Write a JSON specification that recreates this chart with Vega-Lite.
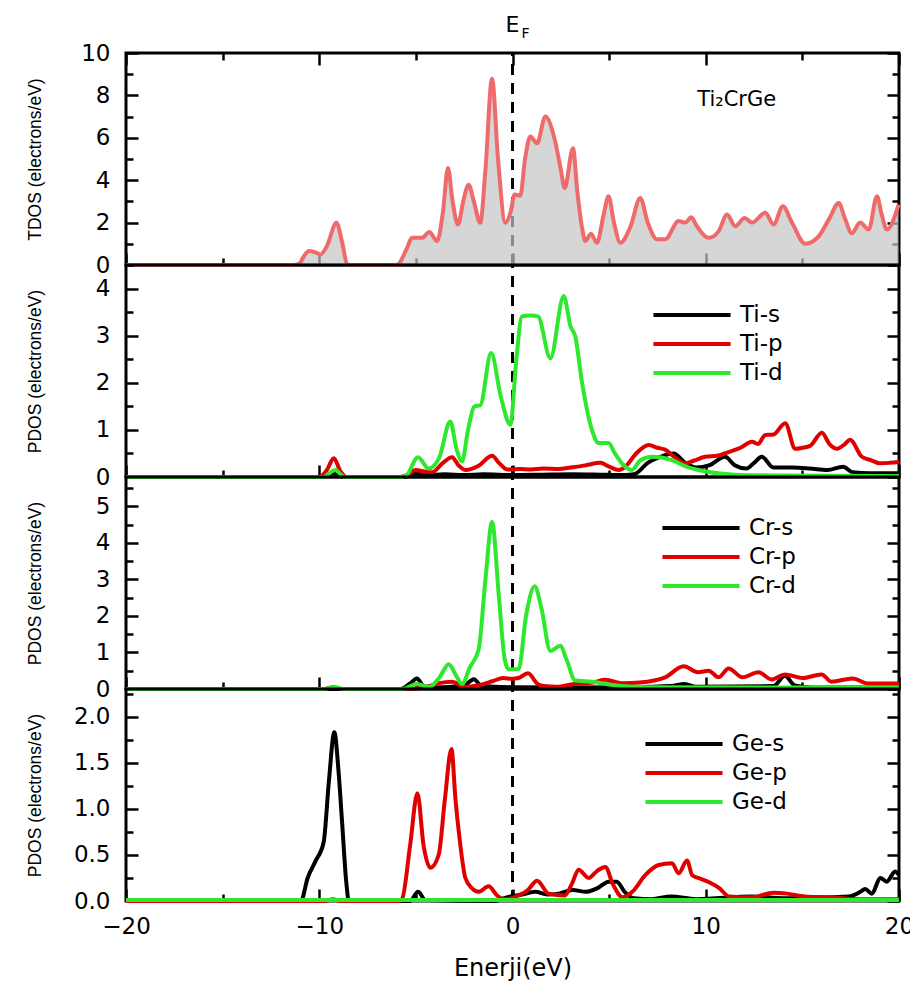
{
  "$schema": "https://vega.github.io/schema/vega-lite/v6.json",
  "background": "white",
  "padding": {"left": 24, "top": 12, "right": 4, "bottom": 4},
  "bounds": "flush",
  "spacing": 0,
  "config": {
    "font": "DejaVu Sans",
    "view": {"stroke": "black", "strokeWidth": 3},
    "axis": {"domain": false, "grid": false, "tickColor": "black", "tickWidth": 2.5, "labelFont": "DejaVu Sans", "labelFontSize": 23, "labelColor": "black", "titleFont": "Liberation Sans", "titleColor": "black", "titleFontWeight": "normal", "labelOverlap": false, "labelFlush": false},
    "legend": {"labelFont": "DejaVu Sans", "labelFontSize": 23, "labelColor": "black", "padding": 0}
  },
  "datasets": {
    "tdos": [
      {"E": -20, "v": 0}, {"E": -11.4, "v": 0}, {"E": -11.05, "v": 0.05}, {"E": -10.8, "v": 0.4}, {"E": -10.54, "v": 0.66}, {"E": -10.2, "v": 0.6}, {"E": -9.94, "v": 0.5}, {"E": -9.6, "v": 0.9}, {"E": -9.11, "v": 1.99}, {"E": -8.8, "v": 1.0}, {"E": -8.56, "v": 0.05}, {"E": -8.4, "v": 0}, {"E": -6.0, "v": 0}, {"E": -5.89, "v": 0.05}, {"E": -5.46, "v": 0.8}, {"E": -5.2, "v": 1.28}, {"E": -4.68, "v": 1.28}, {"E": -4.3, "v": 1.56}, {"E": -3.9, "v": 1.13}, {"E": -3.6, "v": 2.5}, {"E": -3.34, "v": 4.57}, {"E": -3.1, "v": 3.0}, {"E": -2.82, "v": 1.91}, {"E": -2.55, "v": 3.0}, {"E": -2.27, "v": 3.79}, {"E": -2.0, "v": 3.0}, {"E": -1.67, "v": 1.99}, {"E": -1.4, "v": 4.5}, {"E": -1.06, "v": 8.79}, {"E": -0.75, "v": 5.0}, {"E": -0.37, "v": 1.99}, {"E": -0.1, "v": 2.5}, {"E": 0.11, "v": 3.32}, {"E": 0.4, "v": 3.27}, {"E": 0.65, "v": 5.0}, {"E": 0.92, "v": 6.06}, {"E": 1.27, "v": 5.74}, {"E": 1.7, "v": 7.0}, {"E": 2.21, "v": 5.82}, {"E": 2.5, "v": 4.5}, {"E": 2.7, "v": 3.63}, {"E": 3.13, "v": 5.51}, {"E": 3.35, "v": 3.5}, {"E": 3.6, "v": 1.75}, {"E": 3.77, "v": 1.13}, {"E": 4.06, "v": 1.47}, {"E": 4.37, "v": 1.05}, {"E": 4.7, "v": 2.3}, {"E": 4.97, "v": 3.24}, {"E": 5.25, "v": 2.0}, {"E": 5.58, "v": 1.05}, {"E": 6.1, "v": 1.8}, {"E": 6.61, "v": 3.16}, {"E": 7.0, "v": 2.0}, {"E": 7.48, "v": 1.21}, {"E": 7.9, "v": 1.21}, {"E": 8.6, "v": 2.07}, {"E": 8.94, "v": 2.0}, {"E": 9.25, "v": 2.25}, {"E": 9.54, "v": 1.83}, {"E": 10.15, "v": 1.28}, {"E": 10.67, "v": 1.6}, {"E": 11.1, "v": 2.38}, {"E": 11.53, "v": 1.83}, {"E": 12.01, "v": 2.22}, {"E": 12.39, "v": 2.0}, {"E": 13.08, "v": 2.46}, {"E": 13.51, "v": 1.91}, {"E": 13.99, "v": 2.77}, {"E": 14.46, "v": 2.0}, {"E": 15.15, "v": 1.0}, {"E": 15.84, "v": 1.35}, {"E": 16.4, "v": 2.2}, {"E": 16.88, "v": 2.93}, {"E": 17.2, "v": 2.2}, {"E": 17.56, "v": 1.5}, {"E": 17.99, "v": 2.0}, {"E": 18.43, "v": 1.67}, {"E": 18.86, "v": 3.24}, {"E": 19.1, "v": 2.4}, {"E": 19.37, "v": 1.67}, {"E": 19.98, "v": 2.85}
    ],
    "ti": [
      {"s": "Ti-s", "E": -20, "v": 0}, {"s": "Ti-s", "E": -9.8, "v": 0}, {"s": "Ti-s", "E": -9.3, "v": 0.08}, {"s": "Ti-s", "E": -8.8, "v": 0}, {"s": "Ti-s", "E": -5.6, "v": 0}, {"s": "Ti-s", "E": -5.0, "v": 0.08}, {"s": "Ti-s", "E": -4.5, "v": 0.04}, {"s": "Ti-s", "E": -3.5, "v": 0.06}, {"s": "Ti-s", "E": -2.5, "v": 0.04}, {"s": "Ti-s", "E": -1.5, "v": 0.06}, {"s": "Ti-s", "E": 0, "v": 0.04}, {"s": "Ti-s", "E": 1.5, "v": 0.05}, {"s": "Ti-s", "E": 3, "v": 0.06}, {"s": "Ti-s", "E": 4.5, "v": 0.05}, {"s": "Ti-s", "E": 5.5, "v": 0.04}, {"s": "Ti-s", "E": 6.3, "v": 0.06}, {"s": "Ti-s", "E": 7.0, "v": 0.3}, {"s": "Ti-s", "E": 7.6, "v": 0.42}, {"s": "Ti-s", "E": 8.34, "v": 0.5}, {"s": "Ti-s", "E": 8.94, "v": 0.3}, {"s": "Ti-s", "E": 9.5, "v": 0.2}, {"s": "Ti-s", "E": 10.2, "v": 0.25}, {"s": "Ti-s", "E": 11.0, "v": 0.43}, {"s": "Ti-s", "E": 11.5, "v": 0.25}, {"s": "Ti-s", "E": 12.1, "v": 0.18}, {"s": "Ti-s", "E": 12.5, "v": 0.3}, {"s": "Ti-s", "E": 12.9, "v": 0.43}, {"s": "Ti-s", "E": 13.5, "v": 0.2}, {"s": "Ti-s", "E": 14.5, "v": 0.2}, {"s": "Ti-s", "E": 15.4, "v": 0.18}, {"s": "Ti-s", "E": 16.3, "v": 0.15}, {"s": "Ti-s", "E": 17.1, "v": 0.22}, {"s": "Ti-s", "E": 17.6, "v": 0.1}, {"s": "Ti-s", "E": 18.5, "v": 0.08}, {"s": "Ti-s", "E": 20, "v": 0.08},
      {"s": "Ti-p", "E": -20, "v": 0}, {"s": "Ti-p", "E": -10.0, "v": 0}, {"s": "Ti-p", "E": -9.6, "v": 0.15}, {"s": "Ti-p", "E": -9.25, "v": 0.4}, {"s": "Ti-p", "E": -8.9, "v": 0.12}, {"s": "Ti-p", "E": -8.6, "v": 0}, {"s": "Ti-p", "E": -5.8, "v": 0}, {"s": "Ti-p", "E": -5.4, "v": 0.05}, {"s": "Ti-p", "E": -5.03, "v": 0.15}, {"s": "Ti-p", "E": -4.6, "v": 0.12}, {"s": "Ti-p", "E": -4.16, "v": 0.1}, {"s": "Ti-p", "E": -3.6, "v": 0.3}, {"s": "Ti-p", "E": -3.13, "v": 0.42}, {"s": "Ti-p", "E": -2.8, "v": 0.25}, {"s": "Ti-p", "E": -2.44, "v": 0.15}, {"s": "Ti-p", "E": -1.75, "v": 0.24}, {"s": "Ti-p", "E": -1.06, "v": 0.45}, {"s": "Ti-p", "E": -0.7, "v": 0.3}, {"s": "Ti-p", "E": -0.28, "v": 0.16}, {"s": "Ti-p", "E": 0.4, "v": 0.17}, {"s": "Ti-p", "E": 0.94, "v": 0.16}, {"s": "Ti-p", "E": 1.6, "v": 0.18}, {"s": "Ti-p", "E": 2.39, "v": 0.17}, {"s": "Ti-p", "E": 3.0, "v": 0.2}, {"s": "Ti-p", "E": 3.8, "v": 0.25}, {"s": "Ti-p", "E": 4.54, "v": 0.3}, {"s": "Ti-p", "E": 5.0, "v": 0.22}, {"s": "Ti-p", "E": 5.5, "v": 0.15}, {"s": "Ti-p", "E": 5.84, "v": 0.22}, {"s": "Ti-p", "E": 6.4, "v": 0.5}, {"s": "Ti-p", "E": 7.05, "v": 0.68}, {"s": "Ti-p", "E": 7.5, "v": 0.62}, {"s": "Ti-p", "E": 7.9, "v": 0.58}, {"s": "Ti-p", "E": 8.4, "v": 0.42}, {"s": "Ti-p", "E": 8.94, "v": 0.29}, {"s": "Ti-p", "E": 9.4, "v": 0.35}, {"s": "Ti-p", "E": 9.97, "v": 0.43}, {"s": "Ti-p", "E": 10.6, "v": 0.45}, {"s": "Ti-p", "E": 11.18, "v": 0.53}, {"s": "Ti-p", "E": 11.8, "v": 0.62}, {"s": "Ti-p", "E": 12.39, "v": 0.75}, {"s": "Ti-p", "E": 12.7, "v": 0.7}, {"s": "Ti-p", "E": 13.08, "v": 0.89}, {"s": "Ti-p", "E": 13.5, "v": 0.9}, {"s": "Ti-p", "E": 14.11, "v": 1.14}, {"s": "Ti-p", "E": 14.63, "v": 0.6}, {"s": "Ti-p", "E": 15.0, "v": 0.62}, {"s": "Ti-p", "E": 15.4, "v": 0.66}, {"s": "Ti-p", "E": 16.01, "v": 0.94}, {"s": "Ti-p", "E": 16.4, "v": 0.7}, {"s": "Ti-p", "E": 16.8, "v": 0.6}, {"s": "Ti-p", "E": 17.2, "v": 0.7}, {"s": "Ti-p", "E": 17.47, "v": 0.79}, {"s": "Ti-p", "E": 18.08, "v": 0.43}, {"s": "Ti-p", "E": 18.6, "v": 0.35}, {"s": "Ti-p", "E": 19.0, "v": 0.29}, {"s": "Ti-p", "E": 19.5, "v": 0.3}, {"s": "Ti-p", "E": 20, "v": 0.32},
      {"s": "Ti-d", "E": -20, "v": 0}, {"s": "Ti-d", "E": -9.8, "v": 0}, {"s": "Ti-d", "E": -9.17, "v": 0.15}, {"s": "Ti-d", "E": -8.7, "v": 0}, {"s": "Ti-d", "E": -5.8, "v": 0}, {"s": "Ti-d", "E": -5.5, "v": 0.03}, {"s": "Ti-d", "E": -4.89, "v": 0.42}, {"s": "Ti-d", "E": -4.34, "v": 0.18}, {"s": "Ti-d", "E": -3.8, "v": 0.4}, {"s": "Ti-d", "E": -3.22, "v": 1.18}, {"s": "Ti-d", "E": -2.9, "v": 0.6}, {"s": "Ti-d", "E": -2.61, "v": 0.33}, {"s": "Ti-d", "E": -2.3, "v": 1.0}, {"s": "Ti-d", "E": -1.96, "v": 1.5}, {"s": "Ti-d", "E": -1.67, "v": 1.52}, {"s": "Ti-d", "E": -1.11, "v": 2.63}, {"s": "Ti-d", "E": -0.6, "v": 1.7}, {"s": "Ti-d", "E": -0.11, "v": 1.11}, {"s": "Ti-d", "E": 0.2, "v": 2.5}, {"s": "Ti-d", "E": 0.49, "v": 3.41}, {"s": "Ti-d", "E": 0.92, "v": 3.43}, {"s": "Ti-d", "E": 1.32, "v": 3.41}, {"s": "Ti-d", "E": 1.96, "v": 2.52}, {"s": "Ti-d", "E": 2.65, "v": 3.84}, {"s": "Ti-d", "E": 3.0, "v": 3.2}, {"s": "Ti-d", "E": 3.25, "v": 2.98}, {"s": "Ti-d", "E": 3.6, "v": 2.0}, {"s": "Ti-d", "E": 4.11, "v": 1.0}, {"s": "Ti-d", "E": 4.46, "v": 0.72}, {"s": "Ti-d", "E": 4.97, "v": 0.72}, {"s": "Ti-d", "E": 5.3, "v": 0.5}, {"s": "Ti-d", "E": 5.66, "v": 0.29}, {"s": "Ti-d", "E": 6.18, "v": 0.15}, {"s": "Ti-d", "E": 6.6, "v": 0.35}, {"s": "Ti-d", "E": 7.22, "v": 0.43}, {"s": "Ti-d", "E": 8.25, "v": 0.36}, {"s": "Ti-d", "E": 9.0, "v": 0.22}, {"s": "Ti-d", "E": 9.63, "v": 0.15}, {"s": "Ti-d", "E": 11.5, "v": 0.05}, {"s": "Ti-d", "E": 14, "v": 0.03}, {"s": "Ti-d", "E": 20, "v": 0.02}
    ],
    "cr": [
      {"s": "Cr-s", "E": -20, "v": 0}, {"s": "Cr-s", "E": -5.8, "v": 0}, {"s": "Cr-s", "E": -5.3, "v": 0.15}, {"s": "Cr-s", "E": -4.94, "v": 0.29}, {"s": "Cr-s", "E": -4.6, "v": 0.08}, {"s": "Cr-s", "E": -4.0, "v": 0.04}, {"s": "Cr-s", "E": -2.5, "v": 0.1}, {"s": "Cr-s", "E": -2.0, "v": 0.27}, {"s": "Cr-s", "E": -1.6, "v": 0.08}, {"s": "Cr-s", "E": 0, "v": 0.05}, {"s": "Cr-s", "E": 3, "v": 0.04}, {"s": "Cr-s", "E": 6, "v": 0.05}, {"s": "Cr-s", "E": 8.2, "v": 0.08}, {"s": "Cr-s", "E": 8.9, "v": 0.14}, {"s": "Cr-s", "E": 9.5, "v": 0.06}, {"s": "Cr-s", "E": 13.5, "v": 0.08}, {"s": "Cr-s", "E": 14.1, "v": 0.36}, {"s": "Cr-s", "E": 14.6, "v": 0.1}, {"s": "Cr-s", "E": 15.5, "v": 0.04}, {"s": "Cr-s", "E": 20, "v": 0.04},
      {"s": "Cr-p", "E": -20, "v": 0}, {"s": "Cr-p", "E": -9.8, "v": 0}, {"s": "Cr-p", "E": -9.3, "v": 0.05}, {"s": "Cr-p", "E": -8.8, "v": 0}, {"s": "Cr-p", "E": -5.5, "v": 0}, {"s": "Cr-p", "E": -4.5, "v": 0.05}, {"s": "Cr-p", "E": -3.8, "v": 0.16}, {"s": "Cr-p", "E": -3.13, "v": 0.2}, {"s": "Cr-p", "E": -2.5, "v": 0.06}, {"s": "Cr-p", "E": -1.8, "v": 0.1}, {"s": "Cr-p", "E": -1.0, "v": 0.22}, {"s": "Cr-p", "E": -0.5, "v": 0.3}, {"s": "Cr-p", "E": 0, "v": 0.28}, {"s": "Cr-p", "E": 0.3, "v": 0.3}, {"s": "Cr-p", "E": 0.8, "v": 0.43}, {"s": "Cr-p", "E": 1.3, "v": 0.14}, {"s": "Cr-p", "E": 1.6, "v": 0.08}, {"s": "Cr-p", "E": 2.3, "v": 0.06}, {"s": "Cr-p", "E": 3.1, "v": 0.13}, {"s": "Cr-p", "E": 4.2, "v": 0.18}, {"s": "Cr-p", "E": 4.8, "v": 0.25}, {"s": "Cr-p", "E": 5.66, "v": 0.16}, {"s": "Cr-p", "E": 6.6, "v": 0.18}, {"s": "Cr-p", "E": 7.9, "v": 0.32}, {"s": "Cr-p", "E": 8.86, "v": 0.62}, {"s": "Cr-p", "E": 9.6, "v": 0.46}, {"s": "Cr-p", "E": 10.15, "v": 0.5}, {"s": "Cr-p", "E": 10.67, "v": 0.32}, {"s": "Cr-p", "E": 11.18, "v": 0.56}, {"s": "Cr-p", "E": 11.9, "v": 0.32}, {"s": "Cr-p", "E": 12.73, "v": 0.46}, {"s": "Cr-p", "E": 13.4, "v": 0.26}, {"s": "Cr-p", "E": 14.1, "v": 0.4}, {"s": "Cr-p", "E": 15, "v": 0.3}, {"s": "Cr-p", "E": 16, "v": 0.4}, {"s": "Cr-p", "E": 16.5, "v": 0.2}, {"s": "Cr-p", "E": 17.6, "v": 0.29}, {"s": "Cr-p", "E": 18.4, "v": 0.15}, {"s": "Cr-p", "E": 20, "v": 0.15},
      {"s": "Cr-d", "E": -20, "v": 0}, {"s": "Cr-d", "E": -9.8, "v": 0}, {"s": "Cr-d", "E": -9.2, "v": 0.05}, {"s": "Cr-d", "E": -8.7, "v": 0}, {"s": "Cr-d", "E": -5.7, "v": 0}, {"s": "Cr-d", "E": -4.94, "v": 0.14}, {"s": "Cr-d", "E": -4.34, "v": 0.05}, {"s": "Cr-d", "E": -3.8, "v": 0.3}, {"s": "Cr-d", "E": -3.3, "v": 0.68}, {"s": "Cr-d", "E": -2.9, "v": 0.35}, {"s": "Cr-d", "E": -2.61, "v": 0.14}, {"s": "Cr-d", "E": -2.2, "v": 0.6}, {"s": "Cr-d", "E": -1.75, "v": 1.09}, {"s": "Cr-d", "E": -1.4, "v": 3.0}, {"s": "Cr-d", "E": -1.06, "v": 4.57}, {"s": "Cr-d", "E": -0.7, "v": 2.5}, {"s": "Cr-d", "E": -0.4, "v": 0.8}, {"s": "Cr-d", "E": -0.2, "v": 0.54}, {"s": "Cr-d", "E": 0.32, "v": 0.55}, {"s": "Cr-d", "E": 0.7, "v": 2.0}, {"s": "Cr-d", "E": 1.15, "v": 2.81}, {"s": "Cr-d", "E": 1.5, "v": 2.2}, {"s": "Cr-d", "E": 1.96, "v": 1.04}, {"s": "Cr-d", "E": 2.47, "v": 1.18}, {"s": "Cr-d", "E": 2.8, "v": 0.8}, {"s": "Cr-d", "E": 3.25, "v": 0.23}, {"s": "Cr-d", "E": 4.1, "v": 0.2}, {"s": "Cr-d", "E": 5.0, "v": 0.12}, {"s": "Cr-d", "E": 5.6, "v": 0.08}, {"s": "Cr-d", "E": 7, "v": 0.05}, {"s": "Cr-d", "E": 20, "v": 0.04}
    ],
    "ge": [
      {"s": "Ge-s", "E": -20, "v": 0}, {"s": "Ge-s", "E": -10.95, "v": 0}, {"s": "Ge-s", "E": -10.6, "v": 0.25}, {"s": "Ge-s", "E": -10.2, "v": 0.43}, {"s": "Ge-s", "E": -9.77, "v": 0.64}, {"s": "Ge-s", "E": -9.5, "v": 1.3}, {"s": "Ge-s", "E": -9.22, "v": 1.83}, {"s": "Ge-s", "E": -9.0, "v": 1.4}, {"s": "Ge-s", "E": -8.82, "v": 0.86}, {"s": "Ge-s", "E": -8.6, "v": 0.2}, {"s": "Ge-s", "E": -8.47, "v": 0}, {"s": "Ge-s", "E": -5.3, "v": 0}, {"s": "Ge-s", "E": -4.89, "v": 0.1}, {"s": "Ge-s", "E": -4.5, "v": 0.01}, {"s": "Ge-s", "E": -1, "v": 0}, {"s": "Ge-s", "E": -0.1, "v": 0.05}, {"s": "Ge-s", "E": 0.5, "v": 0.07}, {"s": "Ge-s", "E": 1.18, "v": 0.1}, {"s": "Ge-s", "E": 1.8, "v": 0.07}, {"s": "Ge-s", "E": 2.4, "v": 0.08}, {"s": "Ge-s", "E": 3.1, "v": 0.12}, {"s": "Ge-s", "E": 3.8, "v": 0.1}, {"s": "Ge-s", "E": 4.4, "v": 0.14}, {"s": "Ge-s", "E": 4.98, "v": 0.21}, {"s": "Ge-s", "E": 5.4, "v": 0.21}, {"s": "Ge-s", "E": 5.8, "v": 0.1}, {"s": "Ge-s", "E": 6.28, "v": 0.03}, {"s": "Ge-s", "E": 7.2, "v": 0.02}, {"s": "Ge-s", "E": 8.2, "v": 0.05}, {"s": "Ge-s", "E": 9.5, "v": 0.02}, {"s": "Ge-s", "E": 12.4, "v": 0.05}, {"s": "Ge-s", "E": 14, "v": 0.03}, {"s": "Ge-s", "E": 17.4, "v": 0.05}, {"s": "Ge-s", "E": 18.0, "v": 0.1}, {"s": "Ge-s", "E": 18.25, "v": 0.13}, {"s": "Ge-s", "E": 18.6, "v": 0.08}, {"s": "Ge-s", "E": 19.03, "v": 0.25}, {"s": "Ge-s", "E": 19.37, "v": 0.21}, {"s": "Ge-s", "E": 19.8, "v": 0.32}, {"s": "Ge-s", "E": 20, "v": 0.28},
      {"s": "Ge-p", "E": -20, "v": 0}, {"s": "Ge-p", "E": -9.7, "v": 0}, {"s": "Ge-p", "E": -9.3, "v": 0.02}, {"s": "Ge-p", "E": -8.9, "v": 0}, {"s": "Ge-p", "E": -5.9, "v": 0}, {"s": "Ge-p", "E": -5.72, "v": 0.02}, {"s": "Ge-p", "E": -5.3, "v": 0.6}, {"s": "Ge-p", "E": -4.92, "v": 1.17}, {"s": "Ge-p", "E": -4.6, "v": 0.6}, {"s": "Ge-p", "E": -4.25, "v": 0.36}, {"s": "Ge-p", "E": -3.82, "v": 0.5}, {"s": "Ge-p", "E": -3.5, "v": 1.1}, {"s": "Ge-p", "E": -3.16, "v": 1.65}, {"s": "Ge-p", "E": -2.95, "v": 1.1}, {"s": "Ge-p", "E": -2.74, "v": 0.68}, {"s": "Ge-p", "E": -2.44, "v": 0.25}, {"s": "Ge-p", "E": -2.1, "v": 0.14}, {"s": "Ge-p", "E": -1.75, "v": 0.1}, {"s": "Ge-p", "E": -1.23, "v": 0.16}, {"s": "Ge-p", "E": -0.8, "v": 0.06}, {"s": "Ge-p", "E": -0.37, "v": 0.02}, {"s": "Ge-p", "E": 0.32, "v": 0.06}, {"s": "Ge-p", "E": 0.8, "v": 0.12}, {"s": "Ge-p", "E": 1.27, "v": 0.22}, {"s": "Ge-p", "E": 1.87, "v": 0.08}, {"s": "Ge-p", "E": 2.7, "v": 0.06}, {"s": "Ge-p", "E": 3.1, "v": 0.2}, {"s": "Ge-p", "E": 3.42, "v": 0.34}, {"s": "Ge-p", "E": 3.94, "v": 0.25}, {"s": "Ge-p", "E": 4.4, "v": 0.33}, {"s": "Ge-p", "E": 4.8, "v": 0.37}, {"s": "Ge-p", "E": 5.2, "v": 0.18}, {"s": "Ge-p", "E": 5.7, "v": 0.04}, {"s": "Ge-p", "E": 6.2, "v": 0.1}, {"s": "Ge-p", "E": 6.87, "v": 0.28}, {"s": "Ge-p", "E": 7.56, "v": 0.39}, {"s": "Ge-p", "E": 8.25, "v": 0.41}, {"s": "Ge-p", "E": 8.6, "v": 0.3}, {"s": "Ge-p", "E": 9.03, "v": 0.44}, {"s": "Ge-p", "E": 9.3, "v": 0.28}, {"s": "Ge-p", "E": 9.74, "v": 0.24}, {"s": "Ge-p", "E": 10.2, "v": 0.2}, {"s": "Ge-p", "E": 10.7, "v": 0.14}, {"s": "Ge-p", "E": 11.2, "v": 0.05}, {"s": "Ge-p", "E": 12.4, "v": 0.04}, {"s": "Ge-p", "E": 13.5, "v": 0.09}, {"s": "Ge-p", "E": 14.2, "v": 0.08}, {"s": "Ge-p", "E": 15.1, "v": 0.05}, {"s": "Ge-p", "E": 16.5, "v": 0.04}, {"s": "Ge-p", "E": 18, "v": 0.02}, {"s": "Ge-p", "E": 20, "v": 0.02},
      {"s": "Ge-d", "E": -20, "v": 0.01}, {"s": "Ge-d", "E": 0, "v": 0.01}, {"s": "Ge-d", "E": 20, "v": 0.01}
    ]
  },
  "resolve": {"scale": {"x": "independent", "y": "independent", "color": "independent"}, "legend": {"color": "independent"}},
  "vconcat": [
    {
      "width": 773, "height": 212,
      "resolve": {"axis": {"x": "independent", "y": "independent"}},
      "layer": [
        {
          "data": {"values": [{"E": 0}]},
          "mark": {"type": "rule", "color": "black", "strokeWidth": 3, "strokeDash": [11, 8]},
          "encoding": {
            "x": {"field": "E", "type": "quantitative", "scale": {"domain": [-20, 20], "nice": false}, "axis": {"orient": "bottom", "values": [-20, -10, 0, 10, 20], "labels": false, "title": null, "tickSize": -12}},
            "y": {"datum": 0, "type": "quantitative", "axis": {"orient": "right", "values": [0, 2, 4, 6, 8, 10], "labels": false, "title": null, "tickSize": -12}},
            "y2": {"datum": 10}
          }
        },
        {
          "data": {"name": "tdos"},
          "mark": {"type": "area", "color": "#c4c4c4", "opacity": 0.7, "interpolate": "monotone"},
          "encoding": {
            "x": {"field": "E", "type": "quantitative", "axis": null},
            "y": {"field": "v", "type": "quantitative", "scale": {"domain": [0, 10], "nice": false}, "axis": {"orient": "left", "values": [0, 2, 4, 6, 8, 10], "format": "d", "labelPadding": 28, "tickSize": -12, "title": "TDOS (electrons/eV)", "titleFontSize": 17.5, "titleX": -91, "titleBaseline": "middle"}}
          }
        },
        {
          "data": {"name": "tdos"},
          "mark": {"type": "line", "color": "#ef6b6b", "strokeWidth": 4, "interpolate": "monotone"},
          "encoding": {
            "x": {"field": "E", "type": "quantitative", "axis": null},
            "y": {"field": "v", "type": "quantitative", "axis": null}
          }
        },
        {
          "data": {"values": [{}]},
          "mark": {"type": "rule", "opacity": 0},
          "encoding": {
            "x": {"datum": 0, "type": "quantitative", "axis": {"orient": "bottom", "values": [-15, -5, 5, 15], "labels": false, "title": null, "tickSize": -7}},
            "y": {"datum": 0, "type": "quantitative", "axis": {"orient": "left", "values": [1, 3, 5, 7, 9], "labels": false, "title": null, "tickSize": -7}},
            "y2": {"datum": 10}
          }
        },
        {
          "data": {"values": [{}]},
          "mark": {"type": "rule", "opacity": 0},
          "encoding": {
            "x": {"datum": 0, "type": "quantitative", "axis": {"orient": "top", "values": [-20, -10, 0, 10, 20], "labels": false, "title": null, "tickSize": -12}},
            "y": {"datum": 0, "type": "quantitative", "axis": {"orient": "right", "values": [1, 3, 5, 7, 9], "labels": false, "title": null, "tickSize": -7}},
            "y2": {"datum": 10}
          }
        },
        {
          "data": {"values": [{}]},
          "mark": {"type": "text", "font": "DejaVu Sans", "fontSize": 21, "align": "center", "baseline": "middle", "color": "black"},
          "encoding": {
            "x": {"datum": 11.6, "type": "quantitative", "axis": {"orient": "top", "values": [-15, -5, 5, 15], "labels": false, "title": null, "tickSize": -7}},
            "y": {"datum": 7.8, "type": "quantitative", "axis": null},
            "text": {"value": "Ti₂CrGe"}
          }
        },
        {
          "data": {"values": [{}]},
          "mark": {"type": "text", "font": "DejaVu Sans", "fontSize": 22, "align": "center", "baseline": "middle", "dy": -28, "color": "black"},
          "encoding": {
            "x": {"datum": 0, "type": "quantitative", "axis": null},
            "y": {"datum": 10, "type": "quantitative", "axis": null},
            "text": {"value": "E"}
          }
        },
        {
          "data": {"values": [{}]},
          "mark": {"type": "text", "font": "DejaVu Sans", "fontSize": 14, "align": "left", "baseline": "middle", "dx": 9, "dy": -19, "color": "black"},
          "encoding": {
            "x": {"datum": 0, "type": "quantitative", "axis": null},
            "y": {"datum": 10, "type": "quantitative", "axis": null},
            "text": {"value": "F"}
          }
        }
      ]
    },
    {
      "width": 773, "height": 212,
      "resolve": {"axis": {"x": "independent", "y": "independent"}},
      "layer": [
        {
          "data": {"values": [{"E": 0}]},
          "mark": {"type": "rule", "color": "black", "strokeWidth": 3, "strokeDash": [11, 8]},
          "encoding": {
            "x": {"field": "E", "type": "quantitative", "scale": {"domain": [-20, 20], "nice": false}, "axis": {"orient": "bottom", "values": [-20, -10, 0, 10, 20], "labels": false, "title": null, "tickSize": -12}},
            "y": {"datum": 0, "type": "quantitative", "axis": {"orient": "right", "values": [0, 1, 2, 3, 4], "labels": false, "title": null, "tickSize": -12}},
            "y2": {"datum": 4.5}
          }
        },
        {
          "data": {"name": "ti"},
          "mark": {"type": "line", "strokeWidth": 4, "interpolate": "monotone"},
          "encoding": {
            "x": {"field": "E", "type": "quantitative", "axis": null},
            "y": {"field": "v", "type": "quantitative", "scale": {"domain": [0, 4.5], "nice": false}, "axis": {"orient": "left", "values": [0, 1, 2, 3, 4], "format": "d", "labelPadding": 28, "tickSize": -12, "title": "PDOS (electrons/eV)", "titleFontSize": 17.5, "titleX": -91, "titleBaseline": "middle"}},
            "color": {"field": "s", "type": "nominal", "sort": null, "scale": {"domain": ["Ti-s", "Ti-p", "Ti-d"], "range": ["#000000", "#e00000", "#2ee82e"]}, "legend": {"orient": "none", "legendX": 549, "legendY": 33, "title": null, "symbolType": "M-2.57,0H2.57", "symbolSize": 900, "symbolStrokeWidth": 4, "labelOffset": 31, "rowPadding": 0, "labelLimit": 200}}
          }
        },
        {
          "data": {"values": [{}]},
          "mark": {"type": "rule", "opacity": 0},
          "encoding": {
            "x": {"datum": 0, "type": "quantitative", "axis": {"orient": "bottom", "values": [-15, -5, 5, 15], "labels": false, "title": null, "tickSize": -7}},
            "y": {"datum": 0, "type": "quantitative", "axis": {"orient": "left", "values": [0.5, 1.5, 2.5, 3.5, 4.5], "labels": false, "title": null, "tickSize": -7}},
            "y2": {"datum": 4.5}
          }
        },
        {
          "data": {"values": [{}]},
          "mark": {"type": "rule", "opacity": 0},
          "encoding": {
            "x": {"datum": 0, "type": "quantitative", "axis": null},
            "y": {"datum": 0, "type": "quantitative", "axis": {"orient": "right", "values": [0.5, 1.5, 2.5, 3.5, 4.5], "labels": false, "title": null, "tickSize": -7}},
            "y2": {"datum": 4.5}
          }
        }
      ]
    },
    {
      "width": 773, "height": 212,
      "resolve": {"axis": {"x": "independent", "y": "independent"}},
      "layer": [
        {
          "data": {"values": [{"E": 0}]},
          "mark": {"type": "rule", "color": "black", "strokeWidth": 3, "strokeDash": [11, 8]},
          "encoding": {
            "x": {"field": "E", "type": "quantitative", "scale": {"domain": [-20, 20], "nice": false}, "axis": {"orient": "bottom", "values": [-20, -10, 0, 10, 20], "labels": false, "title": null, "tickSize": -12}},
            "y": {"datum": 0, "type": "quantitative", "axis": {"orient": "right", "values": [0, 1, 2, 3, 4, 5], "labels": false, "title": null, "tickSize": -12}},
            "y2": {"datum": 5.8}
          }
        },
        {
          "data": {"name": "cr"},
          "mark": {"type": "line", "strokeWidth": 4, "interpolate": "monotone"},
          "encoding": {
            "x": {"field": "E", "type": "quantitative", "axis": null},
            "y": {"field": "v", "type": "quantitative", "scale": {"domain": [0, 5.8], "nice": false}, "axis": {"orient": "left", "values": [0, 1, 2, 3, 4, 5], "format": "d", "labelPadding": 28, "tickSize": -12, "title": "PDOS (electrons/eV)", "titleFontSize": 17.5, "titleX": -91, "titleBaseline": "middle"}},
            "color": {"field": "s", "type": "nominal", "sort": null, "scale": {"domain": ["Cr-s", "Cr-p", "Cr-d"], "range": ["#000000", "#e00000", "#2ee82e"]}, "legend": {"orient": "none", "legendX": 558, "legendY": 34, "title": null, "symbolType": "M-2.57,0H2.57", "symbolSize": 900, "symbolStrokeWidth": 4, "labelOffset": 31, "rowPadding": 0, "labelLimit": 200}}
          }
        },
        {
          "data": {"values": [{}]},
          "mark": {"type": "rule", "opacity": 0},
          "encoding": {
            "x": {"datum": 0, "type": "quantitative", "axis": {"orient": "bottom", "values": [-15, -5, 5, 15], "labels": false, "title": null, "tickSize": -7}},
            "y": {"datum": 0, "type": "quantitative", "axis": {"orient": "left", "values": [0.5, 1.5, 2.5, 3.5, 4.5, 5.5], "labels": false, "title": null, "tickSize": -7}},
            "y2": {"datum": 5.8}
          }
        },
        {
          "data": {"values": [{}]},
          "mark": {"type": "rule", "opacity": 0},
          "encoding": {
            "x": {"datum": 0, "type": "quantitative", "axis": null},
            "y": {"datum": 0, "type": "quantitative", "axis": {"orient": "right", "values": [0.5, 1.5, 2.5, 3.5, 4.5, 5.5], "labels": false, "title": null, "tickSize": -7}},
            "y2": {"datum": 5.8}
          }
        }
      ]
    },
    {
      "width": 773, "height": 212,
      "resolve": {"axis": {"x": "independent", "y": "independent"}},
      "layer": [
        {
          "data": {"values": [{"E": 0}]},
          "mark": {"type": "rule", "color": "black", "strokeWidth": 3, "strokeDash": [11, 8]},
          "encoding": {
            "x": {"field": "E", "type": "quantitative", "scale": {"domain": [-20, 20], "nice": false}, "axis": {"orient": "bottom", "values": [-20, -10, 0, 10, 20], "format": "d", "labelPadding": 26, "tickSize": -12, "title": "Enerji(eV)", "titleFont": "DejaVu Sans", "titleFontSize": 24, "titlePadding": 18}},
            "y": {"datum": 0, "type": "quantitative", "axis": {"orient": "right", "values": [0, 0.5, 1, 1.5, 2], "labels": false, "title": null, "tickSize": -12}},
            "y2": {"datum": 2.3}
          }
        },
        {
          "data": {"name": "ge"},
          "mark": {"type": "line", "strokeWidth": 4, "interpolate": "monotone"},
          "encoding": {
            "x": {"field": "E", "type": "quantitative", "axis": null},
            "y": {"field": "v", "type": "quantitative", "scale": {"domain": [0, 2.3], "nice": false}, "axis": {"orient": "left", "values": [0, 0.5, 1, 1.5, 2], "format": ".1f", "labelPadding": 28, "tickSize": -12, "title": "PDOS (electrons/eV)", "titleFontSize": 17.5, "titleX": -91, "titleBaseline": "middle"}},
            "color": {"field": "s", "type": "nominal", "sort": null, "scale": {"domain": ["Ge-s", "Ge-p", "Ge-d"], "range": ["#000000", "#e00000", "#2ee82e"]}, "legend": {"orient": "none", "legendX": 541, "legendY": 38, "title": null, "symbolType": "M-2.57,0H2.57", "symbolSize": 900, "symbolStrokeWidth": 4, "labelOffset": 31, "rowPadding": 0, "labelLimit": 200}}
          }
        },
        {
          "data": {"values": [{}]},
          "mark": {"type": "rule", "opacity": 0},
          "encoding": {
            "x": {"datum": 0, "type": "quantitative", "axis": {"orient": "bottom", "values": [-15, -5, 5, 15], "labels": false, "title": null, "tickSize": -7}},
            "y": {"datum": 0, "type": "quantitative", "axis": {"orient": "left", "values": [0.25, 0.75, 1.25, 1.75, 2.25], "labels": false, "title": null, "tickSize": -7}},
            "y2": {"datum": 2.3}
          }
        },
        {
          "data": {"values": [{}]},
          "mark": {"type": "rule", "opacity": 0},
          "encoding": {
            "x": {"datum": 0, "type": "quantitative", "axis": null},
            "y": {"datum": 0, "type": "quantitative", "axis": {"orient": "right", "values": [0.25, 0.75, 1.25, 1.75, 2.25], "labels": false, "title": null, "tickSize": -7}},
            "y2": {"datum": 2.3}
          }
        }
      ]
    }
  ]
}
